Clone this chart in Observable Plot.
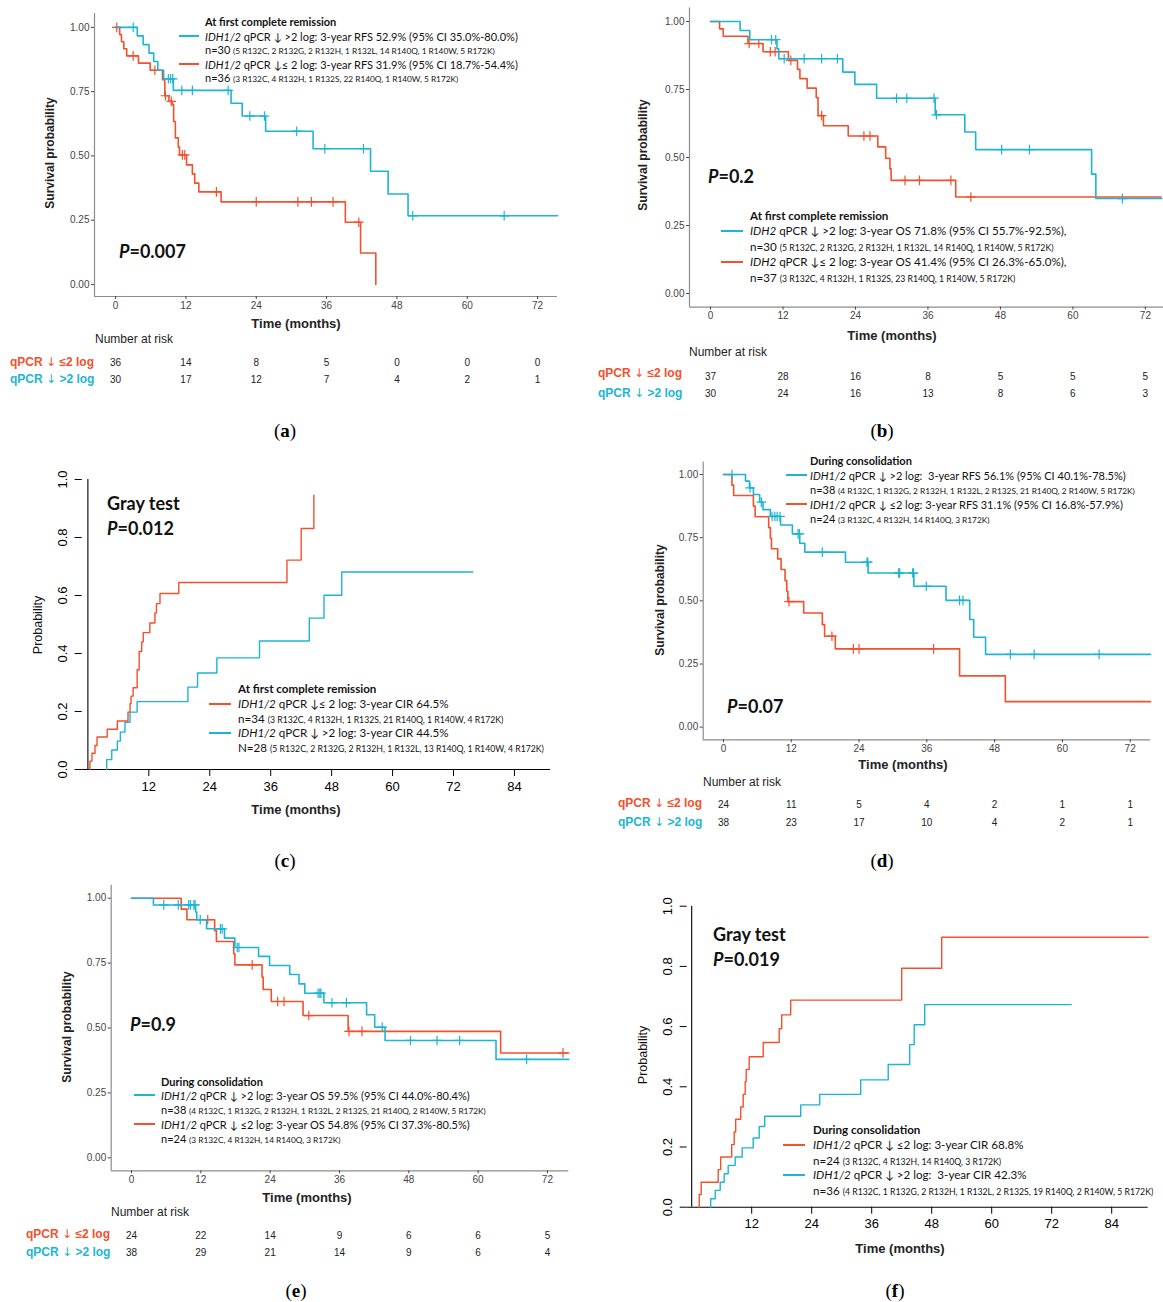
<!DOCTYPE html>
<html><head><meta charset="utf-8">
<script src="https://cdn.jsdelivr.net/npm/d3@7"></script>
<script src="https://cdn.jsdelivr.net/npm/@observablehq/plot@0.6"></script>
<style>
body{margin:0;background:#fff;}
#fig{position:relative;width:1163px;height:1302px;overflow:hidden;background:#fff;}
.t{position:absolute;white-space:nowrap;line-height:1;transform:translateY(-50%);z-index:5;}
.c{transform:translate(-50%,-50%);}
.r{transform:translate(-50%,-50%) rotate(-90deg);}
.lg{font-family:Lato,"Open Sans",sans-serif;font-size:11px;color:#111;}
.lgb{font-family:Lato,"Open Sans",sans-serif;font-size:11px;font-weight:bold;color:#111;}
.big{font-size:11.6px;}
.sm{font-size:8.3px;}
.big .sm{font-size:8.7px;}
.pv{font-family:Lato,"Open Sans",sans-serif;font-size:18px;font-weight:bold;color:#111;}
.ax{font-family:"Liberation Sans",Arial,sans-serif;font-size:13px;font-weight:bold;color:#222;}
.ay{font-family:"Liberation Sans",Arial,sans-serif;font-size:12px;font-weight:bold;color:#222;}
.ayr{font-family:"Liberation Sans",Arial,sans-serif;font-size:12.5px;color:#111;}
.nr{font-family:"Liberation Sans",Arial,sans-serif;font-size:12px;color:#222;}
.rl{font-family:"Liberation Sans",Arial,sans-serif;font-size:12px;font-weight:bold;}
.ar{font-family:"DejaVu Sans",sans-serif;font-weight:normal;}
.pl{font-family:"Liberation Serif","Times New Roman",serif;font-size:19px;color:#000;}
.sw{position:absolute;height:2px;z-index:5;}
svg{background:transparent !important;}
</style>
</head><body>
<div id="fig"></div>
<script>
// ---------- data ----------
const monthTicks = [0, 12, 24, 36, 48, 60, 72];
const monthTicksR = [12, 24, 36, 48, 60, 72, 84];
const survTicks = [0, 0.25, 0.5, 0.75, 1];
const probTicks = [0, 0.2, 0.4, 0.6, 0.8, 1];
const riskGroups = ["le", "gt"];

// (a) RFS at first CR
const aGtCurve = [[0,1],[3.7,0.967],[4.7,0.933],[5.7,0.9],[6.5,0.867],[7.2,0.833],[8.2,0.8],[9.85,0.755],[19.7,0.705],[21.6,0.655],[25.6,0.596],[33.7,0.528],[43.5,0.44],[46.5,0.352],[49.9,0.267],[75.4,0.267]];
const aGtCens = [3.0,9.0,9.4,9.75,11.3,13.1,19.2,22.9,25.4,30.9,35.7,42.3,50.7,66.3];
const aLeCurve = [[0,1],[0.7,0.972],[1.0,0.944],[1.4,0.917],[1.9,0.889],[3.9,0.861],[5.9,0.833],[8.0,0.796],[8.4,0.734],[9.1,0.712],[9.7,0.70],[9.9,0.634],[10.2,0.57],[10.7,0.534],[10.9,0.504],[12.1,0.465],[13.1,0.43],[13.5,0.394],[14.2,0.36],[18.0,0.321],[39.2,0.242],[41.8,0.122],[44.4,0]];
const aLeCens = [0.2,3.0,6.7,8.5,9.5,11.4,11.8,17.2,24.0,31.1,33.4,37.1,41.5];
const aRiskLe = [36,14,8,5,0,0,0];
const aRiskGt = [30,17,12,7,4,2,1];

// (b) OS at first CR
const bGtCurve = [[0,1],[4.9,0.967],[6.5,0.933],[11.0,0.90],[11.3,0.863],[21.9,0.814],[23.9,0.769],[27.5,0.718],[37.2,0.657],[42.1,0.594],[43.9,0.529],[63.1,0.439],[63.8,0.349],[74.7,0.349]];
const bGtCens = [10.1,10.8,12.2,15.5,18.4,21.0,30.8,32.5,37.0,37.4,48.2,52.8,68.2];
const bLeCurve = [[0,1],[1.5,0.973],[2.1,0.946],[6.2,0.919],[8.7,0.889],[12.9,0.857],[14.4,0.824],[14.8,0.79],[16.0,0.755],[17.5,0.72],[17.8,0.654],[18.7,0.617],[22.8,0.579],[27.7,0.539],[29.0,0.497],[29.7,0.458],[29.9,0.416],[40.6,0.355],[74.6,0.355]];
const bLeCens = [6.4,8.0,9.9,10.7,13.3,18.4,25.4,26.4,32.2,34.6,39.8,43.1];
const bRiskLe = [37,28,16,8,5,5,5];
const bRiskGt = [30,24,16,13,8,6,3];

// (c) CIR at first CR
const cLeCurve = [[0.4,0],[0.4,0.029],[0.8,0.056],[1.4,0.083],[1.8,0.112],[3.8,0.139],[5.8,0.167],[7.9,0.198],[8.3,0.227],[8.5,0.253],[8.9,0.282],[9.7,0.344],[10.1,0.407],[10.6,0.44],[10.9,0.472],[12.2,0.505],[13.2,0.54],[13.5,0.572],[14.2,0.607],[17.9,0.645],[39.2,0.722],[42.0,0.831],[44.5,0.946]];
const cGtCurve = [[3.7,0],[3.7,0.034],[4.7,0.067],[5.8,0.098],[6.4,0.129],[7.3,0.163],[8.3,0.198],[9.7,0.234],[19.7,0.284],[21.6,0.333],[25.4,0.385],[33.8,0.443],[43.6,0.522],[46.5,0.601],[50.0,0.681],[75.8,0.681]];

// (d) RFS during consolidation
const dGtCurve = [[0,1],[3.9,0.974],[4.6,0.947],[5.3,0.921],[6.4,0.891],[7.0,0.861],[8.3,0.834],[10.1,0.80],[12.2,0.765],[13.5,0.728],[14.4,0.693],[21.6,0.653],[25.6,0.61],[33.7,0.558],[39.4,0.502],[43.6,0.426],[44.3,0.356],[46.4,0.288],[75.6,0.288]];
const dGtCens = [1.5,4.7,6.7,8.6,9.1,9.5,10.0,13.2,13.45,17.5,25.4,25.55,31.0,31.2,33.5,33.65,35.9,41.8,42.4,50.8,55.0,66.5];
const dLeCurve = [[0,1],[1.5,0.958],[1.8,0.917],[5.3,0.875],[5.6,0.833],[8.0,0.79],[8.3,0.748],[8.5,0.706],[9.6,0.666],[10.2,0.624],[10.9,0.58],[11.2,0.538],[11.4,0.497],[14.2,0.452],[17.5,0.406],[17.9,0.36],[19.8,0.31],[41.8,0.203],[49.9,0.101],[75.6,0.101]];
const dLeCens = [11.6,19.2,23.0,24.0,37.2];
const dRiskLe = [24,11,5,4,2,1,1];
const dRiskGt = [38,23,17,10,4,2,1];

// (e) OS during consolidation
const eGtCurve = [[0,1],[3.8,0.974],[11.1,0.947],[11.3,0.917],[13.0,0.882],[16.1,0.846],[17.9,0.81],[22.0,0.776],[23.9,0.741],[27.4,0.706],[29.0,0.67],[30.0,0.634],[33.3,0.597],[40.7,0.551],[42.1,0.503],[43.9,0.452],[63.1,0.379],[75.7,0.379]];
const eGtCens = [5.6,8.1,9.9,10.2,10.8,11.0,11.9,15.4,15.7,18.3,18.6,32.3,32.6,32.8,34.7,37.2,43.4,48.3,52.9,56.8,68.4];
const eLeCurve = [[0,1],[8.6,0.958],[9.6,0.917],[14.4,0.875],[14.7,0.833],[17.7,0.786],[17.9,0.743],[22.6,0.696],[22.8,0.648],[24.2,0.602],[29.7,0.548],[37.5,0.487],[63.9,0.404],[75.7,0.404]];
const eLeCens = [13.2,20.9,25.3,26.4,30.7,37.65,39.9,74.7];
const eRiskLe = [24,22,14,9,6,6,5];
const eRiskGt = [38,29,21,14,9,6,4];

// (f) CIR during consolidation
const fLeCurve = [[1.5,0],[1.5,0.042],[1.9,0.083],[5.3,0.125],[5.8,0.167],[8.0,0.208],[8.5,0.25],[8.8,0.292],[9.8,0.333],[10.3,0.375],[10.7,0.417],[10.9,0.458],[11.5,0.5],[14.3,0.547],[17.5,0.593],[18.0,0.639],[19.8,0.688],[42.0,0.794],[50.0,0.897],[91.3,0.897]];
const fGtCurve = [[3.8,0],[3.8,0.028],[4.7,0.056],[5.7,0.083],[6.5,0.111],[7.3,0.139],[8.7,0.167],[10.1,0.197],[12.3,0.23],[13.5,0.268],[14.6,0.302],[21.8,0.34],[25.6,0.375],[33.8,0.423],[39.3,0.474],[43.6,0.54],[44.5,0.606],[46.6,0.673],[75.9,0.673]];

// ---------- styling ----------
const CY = "#1cb5d4", RD = "#f4502c", AX = "#8c8c8c";
const fig = document.getElementById("fig");

function place(svg, left, top) {
  svg.style.position = "absolute";
  svg.style.left = left + "px";
  svg.style.top = top + "px";
  fig.appendChild(svg);
}
function T(x, y, html, cls, color) {
  const d = document.createElement("div");
  d.className = "t " + cls;
  d.style.left = x + "px"; d.style.top = y + "px";
  if (color) d.style.color = color;
  d.innerHTML = html;
  fig.appendChild(d);
}
function S(x1, x2, y, color) {
  const d = document.createElement("div");
  d.className = "sw";
  d.style.left = x1 + "px"; d.style.width = (x2 - x1) + "px";
  d.style.top = (y - 1) + "px"; d.style.background = color;
  fig.appendChild(d);
}
function stepAt(curve, t) {
  let v = curve[0][1];
  for (const [tt, s] of curve) if (tt <= t) v = s;
  return v;
}
const pts = c => c.map(([t, s]) => ({t, s}));

function ggPanel(o) {
  const marks = [
    Plot.ruleY([o.yd[0]], {x1: o.xd[0], x2: o.xd[1], stroke: AX, strokeWidth: 1.2}),
    Plot.ruleX([o.xd[0]], {y1: o.yd[0], y2: o.yd[1], stroke: AX, strokeWidth: 1.2}),
    Plot.axisX({ticks: monthTicks, tickSize: 3, tickPadding: 2, fontSize: 10, color: "#444", label: null}),
    Plot.axisY({ticks: survTicks, tickSize: 3, tickPadding: 2, fontSize: 10, color: "#444", tickFormat: d3.format(".2f"), label: null})
  ];
  for (const g of o.groups) {
    marks.push(Plot.line(pts(g.curve), {x: "t", y: "s", curve: "step-after", stroke: g.color, strokeWidth: 1.6}));
    marks.push(Plot.dot(g.cens.map(t => ({t, s: stepAt(g.curve, t)})), {x: "t", y: "s", symbol: "plus", r: 3.2, stroke: g.color, strokeWidth: 1.2}));
  }
  const svg = Plot.plot({
    width: o.w, height: o.h,
    marginLeft: o.mL, marginRight: o.mR, marginTop: o.mT, marginBottom: o.mB,
    x: {domain: o.xd}, y: {domain: o.yd},
    style: {fontFamily: "'Liberation Sans', Arial, sans-serif", background: "transparent", overflow: "visible"},
    marks
  });
  place(svg, o.left, o.top);
}

function rPanel(o) {
  const marks = [
    Plot.ruleY([0], {x1: o.xd[0], x2: o.xd[1], stroke: "#000", strokeWidth: 1.1}),
    Plot.ruleX([0], {y1: 0, y2: 1, stroke: "#000", strokeWidth: 1.1}),
    Plot.axisX({ticks: monthTicksR, tickSize: 7, tickPadding: 5, fontSize: 13, color: "#000", label: null}),
    Plot.axisY({ticks: probTicks, tickSize: 7, tickPadding: 8, tickRotate: -90, fontSize: 13, color: "#000", tickFormat: d3.format(".1f"), label: null})
  ];
  for (const g of o.groups) {
    marks.push(Plot.line(pts(g.curve), {x: "t", y: "s", curve: "step-after", stroke: g.color, strokeWidth: 1.4}));
  }
  const svg = Plot.plot({
    width: o.w, height: o.h,
    marginLeft: o.mL, marginRight: o.mR, marginTop: o.mT, marginBottom: o.mB,
    x: {domain: o.xd}, y: {domain: [0, 1]},
    style: {fontFamily: "'Liberation Sans', Arial, sans-serif", background: "transparent", overflow: "visible"},
    marks
  });
  place(svg, o.left, o.top);
}

function riskTable(o) {
  const rows = [];
  monthTicks.forEach((m, i) => {
    rows.push({m, g: "le", n: o.le[i]});
    rows.push({m, g: "gt", n: o.gt[i]});
  });
  const svg = Plot.plot({
    width: o.w, height: o.h,
    marginLeft: o.mL, marginRight: o.mR, marginTop: 0, marginBottom: 0,
    x: {domain: o.xd, axis: null},
    y: {type: "point", domain: riskGroups, range: o.yr, padding: 0, axis: null},
    style: {fontFamily: "'Liberation Sans', Arial, sans-serif", background: "transparent", overflow: "visible"},
    marks: [Plot.text(rows, {x: "m", y: "g", text: "n", fontSize: 10, fill: "#222"})]
  });
  place(svg, o.left, o.top);
}

// ---------- panel (a) ----------
const aXd = [-3.6, 75.4], aYd = [-0.047, 1.054];
ggPanel({left: 0, top: 0, w: 565, h: 330, mL: 94, mR: 8, mT: 13, mB: 34, xd: aXd, yd: aYd,
  groups: [{curve: aLeCurve, cens: aLeCens, color: RD}, {curve: aGtCurve, cens: aGtCens, color: CY}]});
riskTable({left: 0, top: 350, w: 565, h: 40, mL: 94, mR: 8, xd: aXd, yr: [12, 29], le: aRiskLe, gt: aRiskGt});

// ---------- panel (b) ----------
const bXd = [-3.48, 75.0], bYd = [-0.05, 1.05];
ggPanel({left: 590, top: 0, w: 573, h: 330, mL: 99, mR: 0, mT: 7.4, mB: 23.4, xd: bXd, yd: bYd,
  groups: [{curve: bLeCurve, cens: bLeCens, color: RD}, {curve: bGtCurve, cens: bGtCens, color: CY}]});
riskTable({left: 590, top: 360, w: 573, h: 45, mL: 99, mR: 0, xd: bXd, yr: [16, 33], le: bRiskLe, gt: bRiskGt});

// ---------- panel (c) ----------
rPanel({left: 0, top: 460, w: 560, h: 350, mL: 81.7, mR: 10, mT: 19, mB: 41, xd: [-1.12, 91.1],
  groups: [{curve: cGtCurve, color: CY}, {curve: cLeCurve, color: RD}]});

// ---------- panel (d) ----------
const dXd = [-3.59, 75.6], dYd = [-0.05, 1.05];
ggPanel({left: 590, top: 440, w: 573, h: 330, mL: 112.7, mR: 13, mT: 21.4, mB: 30.7, xd: dXd, yd: dYd,
  groups: [{curve: dLeCurve, cens: dLeCens, color: RD}, {curve: dGtCurve, cens: dGtCens, color: CY}]});
riskTable({left: 590, top: 790, w: 573, h: 45, mL: 112.7, mR: 13, xd: dXd, yr: [14, 32], le: dRiskLe, gt: dRiskGt});

// ---------- panel (e) ----------
const eXd = [-3.51, 75.7], eYd = [-0.05, 1.05];
ggPanel({left: 0, top: 870, w: 575, h: 330, mL: 110.7, mR: 6.7, mT: 14.7, mB: 29.7, xd: eXd, yd: eYd,
  groups: [{curve: eLeCurve, cens: eLeCens, color: RD}, {curve: eGtCurve, cens: eGtCens, color: CY}]});
riskTable({left: 0, top: 1220, w: 575, h: 45, mL: 110.7, mR: 6.7, xd: eXd, yr: [15, 32], le: eRiskLe, gt: eRiskGt});

// ---------- panel (f) ----------
rPanel({left: 590, top: 880, w: 573, h: 370, mL: 96.7, mR: 15.3, mT: 25.7, mB: 43.3, xd: [-0.9, 91.3],
  groups: [{curve: fGtCurve, color: CY}, {curve: fLeCurve, color: RD}]});

// ---------- texts ----------
const IDH12 = "<i>IDH1/2</i>", IDH2 = "<i>IDH2</i>";
const DN = '<span class="ar">↓</span>';
// (a)
T(50, 153, "Survival probability", "ay r");
T(205, 21, "At first complete remission", "lgb");
S(179, 199, 36, CY); T(205, 36, IDH12 + " qPCR ↓ &gt;2 log: 3-year RFS 52.9% (95% CI 35.0%-80.0%)", "lg");
T(205, 50, 'n=30 <span class="sm">(5 R132C, 2 R132G, 2 R132H, 1 R132L, 14 R140Q, 1 R140W, 5 R172K)</span>', "lg");
S(179, 199, 64, RD); T(205, 64, IDH12 + " qPCR ↓≤ 2 log: 3-year RFS 31.9% (95% CI 18.7%-54.4%)", "lg");
T(205, 78, 'n=36 <span class="sm">(3 R132C, 4 R132H, 1 R132S, 22 R140Q, 1 R140W, 5 R172K)</span>', "lg");
T(119, 251, "<i>P</i>=0.007", "pv");
T(296, 323, "Time (months)", "ax c");
T(95, 339, "Number at risk", "nr");
T(10, 362, "qPCR " + DN + " ≤2 log", "rl", RD);
T(10, 379, "qPCR " + DN + " &gt;2 log", "rl", CY);
T(285, 430, "(<b>a</b>)", "pl c");

// (b)
T(643, 155, "Survival probability", "ay r");
T(708, 176, "<i>P</i>=0.2", "pv");
T(750, 216, "At first complete remission", "lgb big");
S(721, 743, 231, CY); T(750, 231, IDH2 + " qPCR ↓ &gt;2 log: 3-year OS 71.8% (95% CI 55.7%-92.5%),", "lg big");
T(750, 247, 'n=30 <span class="sm">(5 R132C, 2 R132G, 2 R132H, 1 R132L, 14 R140Q, 1 R140W, 5 R172K)</span>', "lg big");
S(721, 743, 262, RD); T(750, 262, IDH2 + " qPCR ↓≤ 2 log: 3-year OS 41.4% (95% CI 26.3%-65.0%),", "lg big");
T(750, 278, 'n=37 <span class="sm">(3 R132C, 4 R132H, 1 R132S, 23 R140Q, 1 R140W, 5 R172K)</span>', "lg big");
T(892, 335, "Time (months)", "ax c");
T(689, 352, "Number at risk", "nr");
T(598, 373, "qPCR " + DN + " ≤2 log", "rl", RD);
T(598, 393, "qPCR " + DN + " &gt;2 log", "rl", CY);
T(882, 430, "(<b>b</b>)", "pl c");

// (c)
T(107, 503, "Gray test", "pv");
T(107, 528, "<i>P</i>=0.012", "pv");
T(238, 689, "At first complete remission", "lgb big");
S(209, 231, 704, RD); T(238, 704, IDH12 + " qPCR ↓≤ 2 log: 3-year CIR 64.5%", "lg big");
T(238, 719, 'n=34 <span class="sm">(3 R132C, 4 R132H, 1 R132S, 21 R140Q, 1 R140W, 4 R172K)</span>', "lg big");
S(209, 231, 733, CY); T(238, 733, IDH12 + " qPCR ↓ &gt;2 log: 3-year CIR 44.5%", "lg big");
T(238, 748, 'N=28 <span class="sm">(5 R132C, 2 R132G, 2 R132H, 1 R132L, 13 R140Q, 1 R140W, 4 R172K)</span>', "lg big");
T(38, 625, "Probability", "ayr r");
T(296, 809, "Time (months)", "ax c");
T(285, 860, "(<b>c</b>)", "pl c");

// (d)
T(660, 600, "Survival probability", "ay r");
T(810, 460, "During consolidation", "lgb");
S(786, 807, 475, CY); T(810, 475, IDH12 + " qPCR ↓ &gt;2 log:&nbsp; 3-year RFS 56.1% (95% CI 40.1%-78.5%)", "lg");
T(810, 490, 'n=38 <span class="sm">(4 R132C, 1 R132G, 2 R132H, 1 R132L, 2 R132S, 21 R140Q, 2 R140W, 5 R172K)</span>', "lg");
S(786, 807, 504, RD); T(810, 504, IDH12 + " qPCR ↓ ≤2 log: 3-year RFS 31.1% (95% CI 16.8%-57.9%)", "lg");
T(810, 519, 'n=24 <span class="sm">(3 R132C, 4 R132H, 14 R140Q, 3 R172K)</span>', "lg");
T(727, 706, "<i>P</i>=0.07", "pv");
T(903, 764, "Time (months)", "ax c");
T(703, 782, "Number at risk", "nr");
T(618, 803, "qPCR " + DN + " ≤2 log", "rl", RD);
T(618, 822, "qPCR " + DN + " &gt;2 log", "rl", CY);
T(882, 860, "(<b>d</b>)", "pl c");

// (e)
T(67, 1027, "Survival probability", "ay r");
T(130, 1024, "<i>P</i>=0.9", "pv");
T(161, 1081, "During consolidation", "lgb");
S(134, 155, 1095, CY); T(161, 1095, IDH12 + " qPCR ↓ &gt;2 log: 3-year OS 59.5% (95% CI 44.0%-80.4%)", "lg");
T(161, 1110, 'n=38 <span class="sm">(4 R132C, 1 R132G, 2 R132H, 1 R132L, 2 R132S, 21 R140Q, 2 R140W, 5 R172K)</span>', "lg");
S(134, 155, 1124, RD); T(161, 1124, IDH12 + " qPCR ↓ ≤2 log: 3-year OS 54.8% (95% CI 37.3%-80.5%)", "lg");
T(161, 1139, 'n=24 <span class="sm">(3 R132C, 4 R132H, 14 R140Q, 3 R172K)</span>', "lg");
T(307, 1197, "Time (months)", "ax c");
T(111, 1212, "Number at risk", "nr");
T(26, 1234, "qPCR " + DN + " ≤2 log", "rl", RD);
T(26, 1252, "qPCR " + DN + " &gt;2 log", "rl", CY);
T(296, 1290, "(<b>e</b>)", "pl c");

// (f)
T(713, 934, "Gray test", "pv");
T(713, 959, "<i>P</i>=0.019", "pv");
T(813, 1130, "During consolidation", "lgb big");
S(783, 805, 1145, RD); T(813, 1145, IDH12 + " qPCR ↓ ≤2 log: 3-year CIR 68.8%", "lg big");
T(813, 1161, 'n=24 <span class="sm">(3 R132C, 4 R132H, 14 R140Q, 3 R172K)</span>', "lg big");
S(783, 805, 1175, CY); T(813, 1175, IDH12 + " qPCR ↓ &gt;2 log:&nbsp; 3-year CIR 42.3%", "lg big");
T(813, 1191, 'n=36 <span class="sm">(4 R132C, 1 R132G, 2 R132H, 1 R132L, 2 R132S, 19 R140Q, 2 R140W, 5 R172K)</span>', "lg big");
T(643, 1055, "Probability", "ayr r");
T(900, 1248, "Time (months)", "ax c");
T(895, 1290, "(<b>f</b>)", "pl c");
</script>
</body></html>
